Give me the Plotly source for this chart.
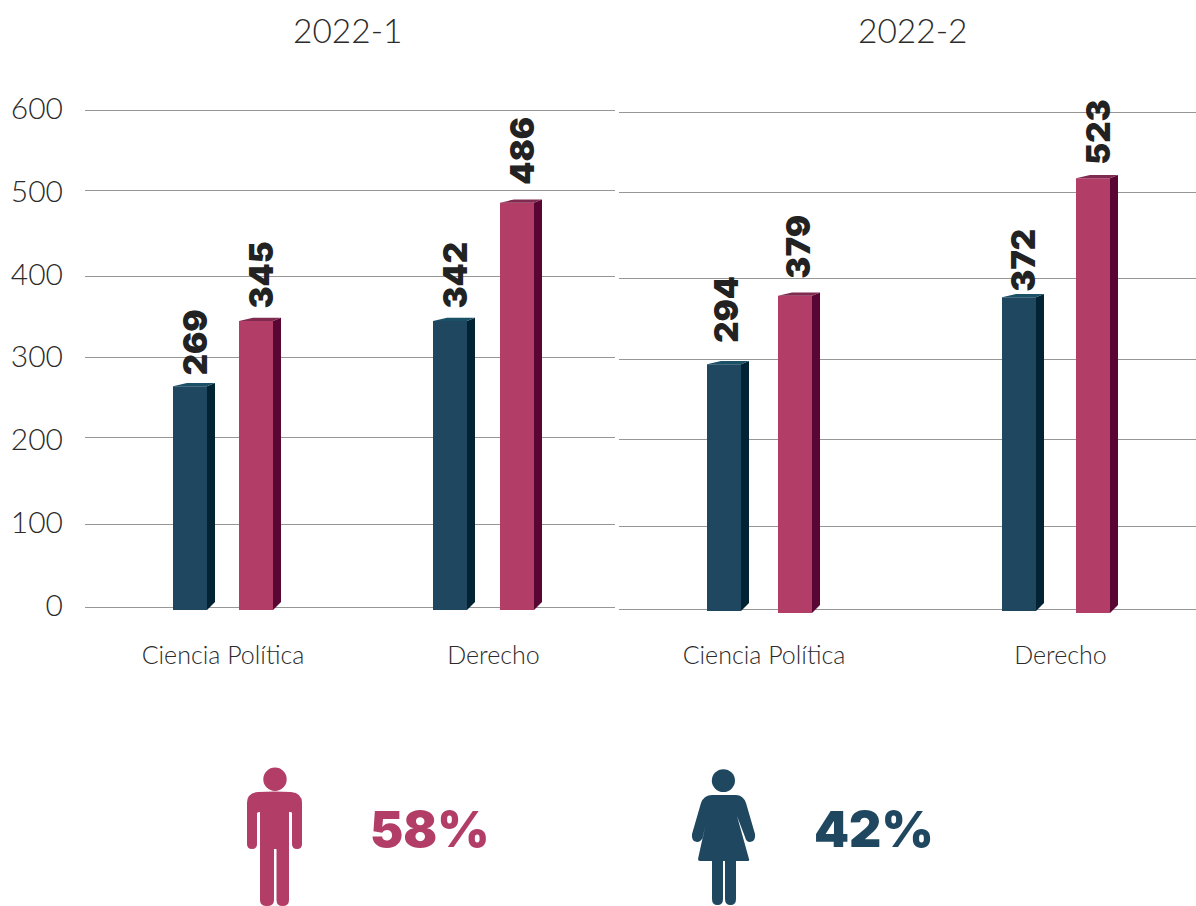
import plotly.graph_objects as go

periods = ["2022-1", "2022-2"]
programas = ["Ciencia Política", "Derecho"]

# printed labels
labels_azul = [[269, 342], [294, 372]]
labels_rosa = [[345, 486], [379, 523]]

# heights
azul = [[267, 346], [296, 377]]
rosa = [[346, 489], [379, 521]]

y_labels = [0, 100, 200, 300, 400, 500, 600]
grid_levels = [0, 99.2, 205.6, 302.4, 399.5, 503.5, 600]

share_labels = ["58%", "42%"]

AZUL = "#1f4860"
AZUL_SIDE = "#022333"
AZUL_TOP = "#1b5166"
ROSA = "#b23d66"
ROSA_SIDE = "#5a0634"
ROSA_TOP = "#7f2a4e"
GRID = "#969696"
TEXT = "#2b2b2b"
FONT = "Lato"
HEAVY = "Inter"

W, H = 1196, 906
PX_PER_UNIT = 0.8267
BAR_W = 34
DEPTH = 8

# panel geometry, x axes run in page pixels
panels = [
    dict(x0=85, x1=615, y0=607, tick_x=[223, 493.5],
         azul_x=[190, 450], rosa_x=[256, 517], base_azul=-3.6, base_rosa=-3.6,
         azul_gap=[9, 10], rosa_gap=[10, 16], azul_dx=[5, 5], rosa_dx=[5, 5],
         xa="x", ya="y", xname="xaxis", yname="yaxis"),
    dict(x0=619, x1=1196, y0=609, tick_x=[764, 1060.5],
         azul_x=[724, 1019], rosa_x=[795, 1093], base_azul=-2.4, base_rosa=-4.8,
         azul_gap=[19, 3], rosa_gap=[15, 11], azul_dx=[2, 4], rosa_dx=[3, 5],
         xa="x2", ya="y2", xname="xaxis2", yname="yaxis2"),
]
PLOT_TOP, PLOT_BOTTOM = 90, 638

fig = go.Figure()
layout = {}
annotations = []


def add_bars(p, xs, tops, base, labels, gaps, dxs, front, side, top, name):
    u = 1 / PX_PER_UNIT
    fig.add_trace(go.Bar(
        x=xs, y=[t - base for t in tops], base=base, width=BAR_W,
        marker=dict(color=front, line=dict(width=0)),
        xaxis=p["xa"], yaxis=p["ya"], showlegend=False, name=name,
    ))
    side_x, side_y, top_x, top_y = [], [], [], []
    for x, t in zip(xs, tops):
        r = x + BAR_W / 2
        l = x - BAR_W / 2
        side_x += [r, r, r + DEPTH, r + DEPTH, r, None]
        side_y += [base, t, t + 3.3 * u, base + DEPTH * u, base, None]
        top_x += [l, l + 14, r + DEPTH, r, l, None]
        top_y += [t, t + 3.3 * u, t + 3.3 * u, t, t, None]
    for px, py, c in [(side_x, side_y, side), (top_x, top_y, top)]:
        fig.add_trace(go.Scatter(
            x=px, y=py, mode="lines", fill="toself", fillcolor=c,
            line=dict(width=0, color=c), hoverinfo="skip", showlegend=False,
            xaxis=p["xa"], yaxis=p["ya"],
        ))
    for x, t, lab, gap, dx in zip(xs, tops, labels, gaps, dxs):
        annotations.append(dict(
            x=x + dx, y=t, xref=p["xa"], yref=p["ya"], text=str(lab),
            textangle=-90, showarrow=False, yanchor="bottom", yshift=gap,
            font=dict(family=HEAVY, size=33, weight=900, color="#222222"),
        ))


for i, p in enumerate(panels):
    add_bars(p, p["azul_x"], azul[i], p["base_azul"], labels_azul[i], p["azul_gap"], p["azul_dx"],
             AZUL, AZUL_SIDE, AZUL_TOP, "Mujeres")
    add_bars(p, p["rosa_x"], rosa[i], p["base_rosa"], labels_rosa[i], p["rosa_gap"], p["rosa_dx"],
             ROSA, ROSA_SIDE, ROSA_TOP, "Hombres")

    layout[p["xname"]] = dict(
        domain=[p["x0"] / W, p["x1"] / W], range=[p["x0"], p["x1"]],
        anchor=p["ya"], tickmode="array", tickvals=p["tick_x"],
        ticktext=programas, showgrid=False, zeroline=False, showline=False,
        ticks="", ticklabelstandoff=0,
        tickfont=dict(family=FONT, size=25, weight=300, color=TEXT),
    )
    layout[p["yname"]] = dict(
        domain=[1 - PLOT_BOTTOM / H, 1 - PLOT_TOP / H],
        range=[(p["y0"] - PLOT_BOTTOM) / PX_PER_UNIT, (p["y0"] - PLOT_TOP) / PX_PER_UNIT],
        anchor=p["xa"], tickmode="array", tickvals=y_labels if i == 0 else [],
        showgrid=False, zeroline=False, showline=False, ticks="",
        ticklabelstandoff=21, ticklabelshift=-2,
        tickfont=dict(family=FONT, size=30, weight=300, color=TEXT),
        minor=dict(tickmode="array", tickvals=grid_levels, showgrid=True,
                   gridcolor=GRID, gridwidth=1.4, ticks=""),
    )
    annotations.append(dict(
        x=[348, 913][i], y=29.5, xref="x3", yref="y3", text=periods[i],
        showarrow=False, font=dict(family=FONT, size=33.5, weight=300, color=TEXT),
    ))

# page-sized helper axes for the icons and the percentages
layout["xaxis3"] = dict(domain=[0, 1], range=[0, W], visible=False, anchor="y3")
layout["yaxis3"] = dict(domain=[0, 1], range=[H, 0], visible=False, anchor="x3")
fig.add_trace(go.Scatter(x=[0], y=[0], mode="markers", marker=dict(opacity=0),
                         xaxis="x3", yaxis="y3", showlegend=False, hoverinfo="skip"))

annotations.append(dict(x=429, y=829, xref="x3", yref="y3", text=share_labels[0], showarrow=False,
                        font=dict(family=HEAVY, size=50, weight=900, color=ROSA)))
annotations.append(dict(x=874, y=829, xref="x3", yref="y3", text=share_labels[1], showarrow=False,
                        font=dict(family=HEAVY, size=50, weight=900, color=AZUL)))

MAN = ("M 247 803 Q 247 793 258 792 Q 275 791 291 792 Q 302 793 302 803 L 302 844 "
       "Q 302 849 297 849 Q 292 849 292 844 L 292 813 Q 292 812 290 812 L 289 812 "
       "L 289 900 Q 289 906 282.5 906 Q 276.5 906 276.5 900 L 276.5 849 L 274 849 "
       "L 274 900 Q 274 906 267 906 Q 260 906 260 900 L 260 812 Q 258 812 257 813 "
       "L 257 844 Q 257 849 252 849 Q 247 849 247 844 Z")
WOMAN = ("M 712 795 L 736 795 Q 743 795 746 803 L 755 834 Q 756 841 750 842 Q 746 842 745 837 "
         "L 737 816 L 749 859 Q 750 861 747 861 L 736 861 L 736 899 Q 736 905 730.5 905 "
         "Q 725 905 725 899 L 725 861 L 723 861 L 723 899 Q 723 905 717.5 905 Q 712 905 712 899 "
         "L 712 861 L 700 861 Q 698 861 698 859 L 705 827 L 703 837 Q 701 842 697 842 "
         "Q 691 841 692 834 L 701 803 Q 704 795 712 795 Z")

shapes = [
    dict(type="path", path=MAN, xref="x3", yref="y3", fillcolor=ROSA, line=dict(width=0)),
    dict(type="circle", x0=263.3, x1=286.7, y0=767.5, y1=791, xref="x3", yref="y3",
         fillcolor=ROSA, line=dict(width=0)),
    dict(type="path", path=WOMAN, xref="x3", yref="y3", fillcolor=AZUL, line=dict(width=0)),
    dict(type="circle", x0=711.8, x1=735, y0=769.2, y1=792, xref="x3", yref="y3",
         fillcolor=AZUL, line=dict(width=0)),
]

fig.update_layout(
    width=W, height=H, margin=dict(l=0, r=0, t=0, b=0),
    paper_bgcolor="white", plot_bgcolor="rgba(0,0,0,0)",
    showlegend=False, annotations=annotations, shapes=shapes, **layout,
)

fig.write_html("out.html", config=dict(displayModeBar=False),
               post_script="document.body.style.margin = '0';")
